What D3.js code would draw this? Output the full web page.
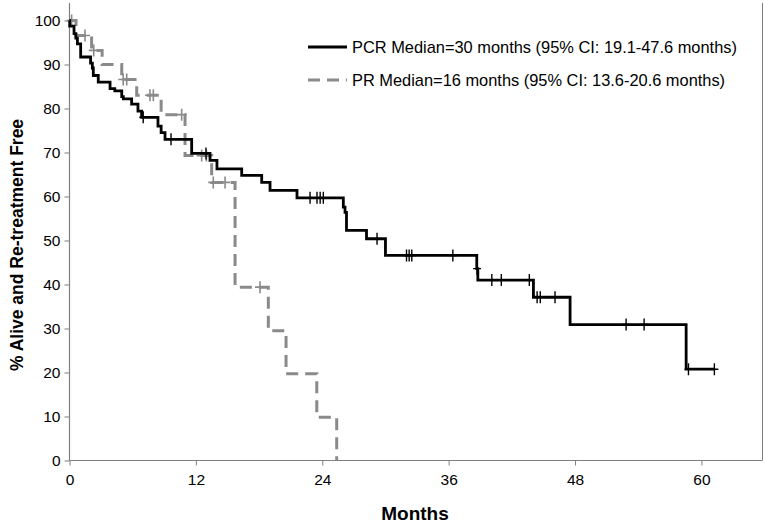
<!DOCTYPE html>
<html><head><meta charset="utf-8">
<script src="https://cdn.jsdelivr.net/npm/d3@7"></script>
<style>body{margin:0;background:#fff}svg{display:block;font-family:"Liberation Sans",Arial,sans-serif}</style>
</head><body>
<svg id="c" width="764" height="523"></svg>
<script>
// PCR (black, solid) Kaplan-Meier steps
const pcrTimes = [0, 0.02, 0.43, 0.6, 0.75, 1.06, 2.0, 2.17, 2.26, 2.73, 3.85, 4.3, 4.96, 5.11, 5.9, 6.5, 6.85, 8.4, 8.7, 9.07, 11.6, 13.34, 14.0, 16.35, 18.25, 19.04, 21.6, 26.0, 26.16, 26.3, 28.2, 30.0, 38.67, 38.77, 44.05, 47.53, 58.55];
const pcrSurv  = [100, 98.7, 97, 96, 94.7, 91.7, 90.3, 89.2, 87.5, 86, 84.5, 84, 82.7, 82.2, 81, 79.4, 78, 76, 74.5, 73, 69.8, 68.2, 66.3, 64.8, 63.2, 61.4, 59.7, 57.6, 56.4, 52.3, 50.4, 46.6, 43.6, 41.0, 37.1, 30.9, 20.75];
const pcrEnd = 61.3;
const pcrCensor = [7.0, 9.64, 12.96, 22.84, 23.5, 23.8, 24.1, 29.2, 32.0, 32.25, 32.5, 36.4, 38.7, 40.1, 41.0, 43.66, 44.4, 44.7, 46.1, 52.85, 54.56, 58.77, 61.23];

// PR (gray, dashed)
const prTimes = [0, 0.62, 2.1, 3.1, 4.96, 6.38, 8.7, 10.97, 13.5, 15.72, 18.88, 20.56, 23.48, 25.37];
const prSurv  = [100, 96.6, 93.2, 90, 86.6, 83, 78.6, 69.3, 63.2, 39.4, 29.5, 19.7, 9.85, 0];
const prEnd = 25.37;
const prCensor = [0.2, 1.47, 2.3, 5.1, 5.43, 7.64, 7.96, 10.65, 12.55, 13.0, 13.65, 14.77, 18.09];

const xTicks = [0, 12, 24, 36, 48, 60];
const yTicks = [0, 10, 20, 30, 40, 50, 60, 70, 80, 90, 100];
const legendLabels = ["PCR Median=30 months (95% CI: 19.1-47.6 months)", "PR Median=16 months (95% CI: 13.6-20.6 months)"];
const axisTitleX = "Months";
const axisTitleY = "% Alive and Re-treatment Free";

const svg = d3.select("#c");
const x = d3.scaleLinear().domain([0, 65.8]).range([69.5, 762.5]);
const y = d3.scaleLinear().domain([0, 104]).range([460.5, 2.9]);
const axisColor = "#808080";

// axes
const yAxis = svg.append("g").attr("transform", "translate(69.5,0)")
  .call(d3.axisLeft(y).tickValues(yTicks).tickSize(5).tickPadding(4));
const xAxis = svg.append("g").attr("transform", "translate(0,460.5)")
  .call(d3.axisBottom(x).tickValues(xTicks).tickSize(5).tickPadding(8));
[xAxis, yAxis].forEach(g => {
  g.select(".domain").attr("stroke", axisColor).attr("stroke-width", 1.2);
  g.selectAll(".tick line").attr("stroke", axisColor);
  g.selectAll("text").attr("fill", "#000").attr("font-size", 15.5).attr("font-family", '"Liberation Sans",Arial,sans-serif');
});
xAxis.select(".domain").attr("d", `M69.5,0H762.5`);
yAxis.select(".domain").attr("d", `M0,${y(0)}V${y(104)}`);
// right plot border
svg.append("line").attr("x1", 762.5).attr("x2", 762.5).attr("y1", y(104)).attr("y2", y(0))
  .attr("stroke", axisColor).attr("stroke-width", 1);

function stepPts(times, surv, end) {
  const pts = times.map((t, i) => [t, surv[i]]);
  pts.push([end, surv[surv.length - 1]]);
  return pts;
}
function levelAt(times, surv, t) {
  let v = surv[0];
  for (let i = 0; i < times.length; i++) if (times[i] <= t) v = surv[i];
  return v;
}
const line = d3.line().x(d => x(d[0])).y(d => y(d[1])).curve(d3.curveStepAfter);

// PR dashed
svg.append("path").datum(stepPts(prTimes, prSurv, prEnd)).attr("d", line)
  .attr("fill", "none").attr("stroke", "#8a8a8a").attr("stroke-width", 3)
  .attr("stroke-dasharray", "12,7");
svg.append("g").selectAll("path").data(prCensor).join("path")
  .attr("d", t => { const cx = x(t), cy = y(levelAt(prTimes, prSurv, t)); return `M${cx-5},${cy}H${cx+5}M${cx},${cy-6}V${cy+6}`; })
  .attr("stroke", "#8a8a8a").attr("stroke-width", 1.6).attr("fill", "none");

// PCR solid
svg.append("path").datum(stepPts(pcrTimes, pcrSurv, pcrEnd)).attr("d", line)
  .attr("fill", "none").attr("stroke", "#000").attr("stroke-width", 2.8);
svg.append("g").selectAll("path").data(pcrCensor).join("path")
  .attr("d", t => { const cx = x(t), cy = y(levelAt(pcrTimes, pcrSurv, t)); return `M${cx-4},${cy}H${cx+4}M${cx},${cy-6}V${cy+6}`; })
  .attr("stroke", "#000").attr("stroke-width", 1.4).attr("fill", "none");

// legend
const leg = svg.append("g");
leg.append("line").attr("x1", 308).attr("x2", 347).attr("y1", 47).attr("y2", 47).attr("stroke", "#000").attr("stroke-width", 2.8);
leg.append("line").attr("x1", 308).attr("x2", 347).attr("y1", 80).attr("y2", 80).attr("stroke", "#8a8a8a").attr("stroke-width", 3).attr("stroke-dasharray", "12,7");
leg.selectAll("text").data(legendLabels).join("text")
  .attr("x", 352).attr("y", (d, i) => 53 + i * 33).attr("font-size", 16.4).attr("fill", "#000").text(d => d);

// axis titles
svg.append("text").attr("x", 415).attr("y", 520).attr("text-anchor", "middle")
  .attr("font-size", 19).attr("font-weight", "bold").text(axisTitleX);
svg.append("text").attr("transform", "translate(23,245) rotate(-90)").attr("text-anchor", "middle")
  .attr("font-size", 17.5).attr("font-weight", "bold").text(axisTitleY);
</script>
</body></html>
